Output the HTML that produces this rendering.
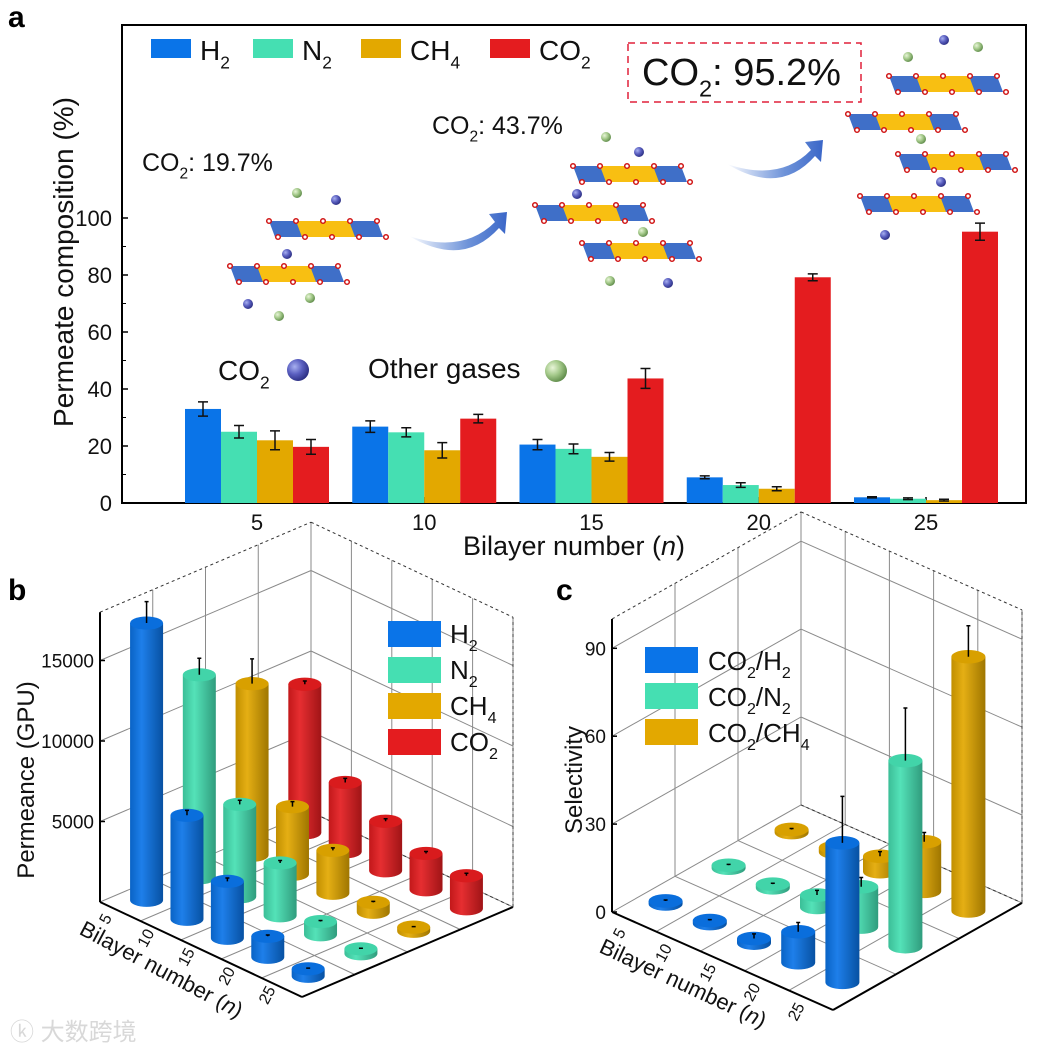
<!DOCTYPE html>
<html><head><meta charset="utf-8">
<style>
html,body{margin:0;padding:0;background:#fff;}
svg{display:block;font-family:"Liberation Sans",Arial,sans-serif;}
</style></head>
<body>
<svg id="fig" width="1061" height="1049" viewBox="0 0 1061 1049" xmlns="http://www.w3.org/2000/svg">
<defs>
<linearGradient id="arrowGrad" x1="0" y1="0" x2="1" y2="0">
<stop offset="0" stop-color="#3d6fd0" stop-opacity="0"/><stop offset="0.6" stop-color="#4a78cf" stop-opacity="0.8"/><stop offset="1" stop-color="#3a66c8"/></linearGradient>
<radialGradient id="blueBall" cx="0.35" cy="0.35" r="0.7"><stop offset="0" stop-color="#a8b0f0"/><stop offset="0.5" stop-color="#5a5fc0"/><stop offset="1" stop-color="#2a2d80"/></radialGradient>
<radialGradient id="greenBall" cx="0.35" cy="0.35" r="0.7"><stop offset="0" stop-color="#e8f5d8"/><stop offset="0.5" stop-color="#a4c98a"/><stop offset="1" stop-color="#5d8a48"/></radialGradient>
</defs>
<g id="panelA"></g>
<g id="panelB"></g>
<g id="panelC"></g>
<text x="10" y="1040" font-size="24" fill="#d8d8d8" font-family="'Liberation Sans','Noto Sans CJK SC',sans-serif">ⓚ 大数跨境</text>
</svg>
<script>
// ---------- Panel a data ----------
const catsA = ['5','10','15','20','25'];
const gasesA = ['H2','N2','CH4','CO2'];
const h2A = [33, 26.8, 20.5, 9, 2];
const n2A = [25, 24.8, 19, 6.3, 1.5];
const ch4A = [22, 18.5, 16.2, 5, 1];
const co2A = [19.7, 29.6, 43.7, 79.2, 95.2];
const h2Err = [2.5, 2, 1.8, 0.5, 0.2];
const n2Err = [2.2, 1.6, 1.7, 0.8, 0.3];
const ch4Err = [3.3, 2.7, 1.5, 0.7, 0.3];
const co2Err = [2.6, 1.5, 3.5, 1.2, 3.0];
const yTicksA = [0,20,40,60,80,100];
// ---------- Panel b data ----------
const catsB = ['5','10','15','20','25'];
const h2B = [16800, 6300, 3450, 1270, 450];
const n2B = [12300, 5600, 3200, 800, 300];
const ch4B = [10400, 4100, 2600, 600, 250];
const co2B = [9000, 4200, 3000, 2200, 2000];
const h2BErr = [1300, 300, 200, 80, 40];
const n2BErr = [1000, 250, 150, 60, 30];
const ch4BErr = [1500, 300, 150, 60, 30];
const co2BErr = [200, 250, 150, 120, 150];
const zTicksB = [5000,10000,15000];
// ---------- Panel c data ----------
const catsC = ['5','10','15','20','25'];
const selH2 = [0.6, 0.8, 1.5, 10, 45];
const selN2 = [0.8, 1.2, 4, 13, 60];
const selCH4 = [1, 1.5, 5, 16, 82];
const selH2Err = [0.3, 0.3, 1.5, 3, 15];
const selN2Err = [0.3, 0.3, 1.5, 3, 17];
const selCH4Err = [0.3, 0.4, 1.5, 3, 10];
const zTicksC = [0,30,60,90];

const NS='http://www.w3.org/2000/svg';
function mk(parent, tag, attrs, text){
  const e=document.createElementNS(NS,tag);
  for(const k in attrs) e.setAttribute(k,attrs[k]);
  if(text!==undefined) e.textContent=text;
  parent.appendChild(e); return e;
}
const colors={H2:'#0a74e8',N2:'#45dfb2',CH4:'#e3a800',CO2:'#e41c1f'};
function gasLabel(parent,x,y,size,base,sub,rest,anchor){
  const t=mk(parent,'text',{x:x,y:y,'font-size':size,fill:'#111','text-anchor':anchor||'start'});
  t.appendChild(document.createTextNode(base));
  if(sub){mk(t,'tspan',{'font-size':size*0.62,dy:size*0.3},sub);}
  if(rest){mk(t,'tspan',{dy:-size*0.3},rest);}
  return t;
}

// ================= PANEL A =================
const A=document.getElementById('panelA');
const axL=122, axR=1026, axT=25, axB=503;
const yA=v=>axB - v*2.85;
const xA=i=>257 + i*167.25;
mk(A,'text',{x:8,y:27,'font-size':30,'font-weight':'bold',fill:'#000'},'a');
const frameA=mk(A,'rect',{x:axL,y:axT,width:axR-axL,height:axB-axT,fill:'none',stroke:'#000','stroke-width':2});


yTicksA.forEach(v=>{
  const t=mk(A,'text',{x:112,y:yA(v)+8,'font-size':22,'text-anchor':'end',fill:'#111'},String(v));
  
  
  mk(A,'line',{x1:axL,x2:axL+6,y1:yA(v),y2:yA(v),stroke:'#000','stroke-width':1.5});
  if(v<100) mk(A,'line',{x1:axL,x2:axL+4,y1:yA(v+10),y2:yA(v+10),stroke:'#000','stroke-width':1});
});
const seriesA=[h2A,n2A,ch4A,co2A], errsA=[h2Err,n2Err,ch4Err,co2Err];
catsA.forEach((c,i)=>{
  const t=mk(A,'text',{x:xA(i),y:530,'font-size':22,'text-anchor':'middle',fill:'#111'},c);
  
  
  mk(A,'line',{x1:xA(i),x2:xA(i),y1:axB,y2:axB-6,stroke:'#000','stroke-width':1.5});
  gasesA.forEach((g,j)=>{
    const v=seriesA[j][i], e=errsA[j][i];
    const bx=xA(i)-72+j*36;
    const r=mk(A,'rect',{x:bx,y:yA(v),width:36,height:axB-yA(v),fill:colors[g]});
    
    
    const cx=bx+18;
    mk(A,'path',{d:`M${cx},${yA(v+e)}V${yA(v-e)}M${cx-5},${yA(v+e)}H${cx+5}M${cx-5},${yA(v-e)}H${cx+5}`,stroke:'#111','stroke-width':1.5,fill:'none'});
  });
});
const xt=mk(A,'text',{x:574,y:555,'font-size':27,'text-anchor':'middle',fill:'#111'});


xt.appendChild(document.createTextNode('Bilayer number ('));
mk(xt,'tspan',{'font-style':'italic'},'n'); xt.appendChild(document.createTextNode(')'));
const yt=mk(A,'text',{x:0,y:0,'font-size':28,'text-anchor':'middle',fill:'#111',transform:'translate(73,262) rotate(-90)'},'Permeate composition (%)');


// legend
const legA=mk(A,'g',{});


[['H2',151,'H','2'],['N2',253,'N','2'],['CH4',361,'CH','4'],['CO2',490,'CO','2']].forEach(([g,x,b,s])=>{
  const r=mk(legA,'rect',{x:x,y:39,width:40,height:19,fill:colors[g]});
  
  
  gasLabel(legA,x+49,60,28,b,s,'');
});
// annotations
gasLabel(A,142,171,25,'CO','2',': 19.7%');
gasLabel(A,432,134,25,'CO','2',': 43.7%');
mk(A,'rect',{x:628,y:43,width:233,height:59,fill:'none',stroke:'#e0203a','stroke-width':1.5,'stroke-dasharray':'7,5'});
gasLabel(A,642,85,38,'CO','2',': 95.2%');
gasLabel(A,218,380,28,'CO','2','');
mk(A,'text',{x:368,y:378,'font-size':28,fill:'#111'},'Other gases');
function ball(x,y,r,type){mk(A,'circle',{cx:x,cy:y,r:r,fill:type==='b'?'url(#blueBall)':'url(#greenBall)'});}
ball(298,370,11,'b'); ball(556,371,11,'g');
function layer(x,y){
  const g=mk(A,'g',{});
  
  
  const w=108,h=16,s=6;
  mk(g,'polygon',{points:`${x},${y} ${x+w},${y} ${x+w+s},${y+h} ${x+s},${y+h}`,fill:'#3f6fc8'});
  mk(g,'polygon',{points:`${x+27},${y} ${x+80},${y} ${x+86},${y+h} ${x+33},${y+h}`,fill:'#f8bf12'});
  for(let k=0;k<5;k++){mk(g,'circle',{cx:x+k*27,cy:y,r:2.3,fill:'#fff',stroke:'#d01515','stroke-width':1.5});
    mk(g,'circle',{cx:x+s+k*27+3,cy:y+h,r:2.3,fill:'#fff',stroke:'#d01515','stroke-width':1.5});}
}
layer(269,221); layer(230,266); ball(297,193,5,'g'); ball(336,200,5,'b'); ball(287,254,5,'b'); ball(248,304,5,'b'); ball(310,298,5,'g'); ball(279,316,5,'g');
layer(573,166); layer(535,205); layer(582,243); ball(606,137,5,'g'); ball(639,152,5,'b'); ball(577,194,5,'b'); ball(643,232,5,'g'); ball(610,281,5,'g'); ball(668,283,5,'b');
layer(889,76); layer(848,114); layer(898,154); layer(860,196); ball(908,57,5,'g'); ball(944,40,5,'b'); ball(978,47,5,'g'); ball(921,139,5,'g'); ball(941,182,5,'b'); ball(885,235,5,'b');
function arrow(x0,y0,x1,y1){
  const a=mk(A,'path',{d:`M${x0},${y0} Q${(x0+x1)/2+5},${y0+18} ${x1-12},${y1+10} L${x1-18},${y1+2} L${x1},${y1} L${x1-2},${y1+22} L${x1-8},${y1+16} Q${(x0+x1)/2+5},${y0+32} ${x0},${y0} Z`,fill:'url(#arrowGrad)'});
  
  
}
arrow(409,236,507,212); arrow(727,164,823,140);

// ================= 3D helpers =================
function shade(hex,f){const n=parseInt(hex.slice(1),16);let r=n>>16,g=(n>>8)&255,b=n&255;
  const c=v=>Math.max(0,Math.min(255,Math.round(f>1?v+(255-v)*(f-1):v*f)));return `rgb(${c(r)},${c(g)},${c(b)})`;}
let gradId=0;
function cylinder(P,cx,cy,h,w,col,name,err){
  const g=mk(P,'g',{});
  
  
  const id='cg'+(gradId++);
  const lg=mk(g,'linearGradient',{id:id,x1:0,x2:1,y1:0,y2:0});
  mk(lg,'stop',{offset:0,'stop-color':shade(col,0.85)});mk(lg,'stop',{offset:0.35,'stop-color':shade(col,1.08)});mk(lg,'stop',{offset:1,'stop-color':shade(col,0.7)});
  const ry=w*0.2, rx=w/2;
  mk(g,'path',{d:`M${cx-rx},${cy-h} V${cy} A${rx},${ry} 0 0 0 ${cx+rx},${cy} V${cy-h} Z`,fill:`url(#${id})`});
  mk(g,'ellipse',{cx:cx,cy:cy-h,rx:rx,ry:ry,fill:shade(col,0.95)});
  if(err>0){mk(g,'path',{d:`M${cx},${cy-h} V${cy-h-err} M${cx-2},${cy-h-err} H${cx+2}`,stroke:'#000','stroke-width':1.5});}
  else mk(g,'circle',{cx:cx,cy:cy-h,r:1.5,fill:'#000'});
}
function panel3D(P,cfg){
  const {L,u,v,nI,nJ,k,zmax,ticks}=cfg;
  const pt=(i,j,z)=>[L[0]+i*u[0]+j*v[0], L[1]+i*u[1]+j*v[1]-z*k];
  const line=(a,b,attrs)=>mk(P,'line',Object.assign({x1:a[0],y1:a[1],x2:b[0],y2:b[1],stroke:'#8a8a8a','stroke-width':1},attrs||{}));
  for(let j=0;j<=nJ;j++) line(pt(0,j,0),pt(0,j,zmax));
  for(let i=0;i<=nI;i++) line(pt(i,nJ,0),pt(i,nJ,zmax));
  ticks.forEach(t=>{line(pt(0,0,t),pt(0,nJ,t));line(pt(0,nJ,t),pt(nI,nJ,t));});
  line(pt(0,0,zmax),pt(0,nJ,zmax),{'stroke-dasharray':'3,3',stroke:'#333'});
  line(pt(0,nJ,zmax),pt(nI,nJ,zmax),{'stroke-dasharray':'3,3',stroke:'#333'});
  for(let i=0;i<=nI;i++) line(pt(i,0,0),pt(i,nJ,0));
  for(let j=0;j<=nJ;j++) line(pt(0,j,0),pt(nI,j,0));
  line(pt(0,0,0),pt(nI,0,0),{stroke:'#000','stroke-width':2});
  line(pt(nI,0,0),pt(nI,nJ,0),{stroke:'#000','stroke-width':2});
  line(pt(0,0,0),pt(0,0,zmax),{stroke:'#000','stroke-width':2});
  line(pt(0,nJ,0),pt(nI,nJ,0),{'stroke-dasharray':'3,3',stroke:'#333'});
  line(pt(nI,nJ,0),pt(nI,nJ,zmax),{'stroke-dasharray':'3,3',stroke:'#333'});
  return pt;
}

// ================= PANEL B =================
const B=document.getElementById('panelB');
mk(B,'text',{x:8,y:600,'font-size':30,'font-weight':'bold',fill:'#000'},'b');
const ptB=panel3D(B,{L:[100,902],u:[40.4,19],v:[52.75,-22.5],nI:5,nJ:4,k:0.0161,zmax:18000,ticks:[5000,10000,15000]});
zTicksB.forEach(t=>{const p=ptB(0,0,t);
  const tl=mk(B,'text',{x:p[0]-6,y:p[1]+7,'font-size':19,'text-anchor':'end',fill:'#111'},String(t));
  
  
  mk(B,'line',{x1:p[0],y1:p[1],x2:p[0]+5,y2:p[1],stroke:'#000','stroke-width':1.5});});
const ytb=mk(B,'text',{'font-size':24,'text-anchor':'middle',fill:'#111',transform:'translate(34,780) rotate(-90)'},'Permeance (GPU)');


catsB.forEach((c,i)=>{const p=ptB(i+0.5,0,0);
  const tl=mk(B,'text',{'font-size':16,'text-anchor':'middle',fill:'#111',transform:`translate(${p[0]-10},${p[1]+10}) rotate(-62)`},c);
  
  });
const xtb=mk(B,'text',{'font-size':22,'text-anchor':'middle',fill:'#111',transform:'translate(158,976) rotate(28)'});


xtb.appendChild(document.createTextNode('Bilayer number ('));
mk(xtb,'tspan',{'font-style':'italic'},'n'); xtb.appendChild(document.createTextNode(')'));
const serB=[h2B,n2B,ch4B,co2B], errB=[h2BErr,n2BErr,ch4BErr,co2BErr];
let itemsB=[];
gasesA.forEach((g,j)=>catsB.forEach((c,i)=>{const p=ptB(i+0.5,j+0.5,0);itemsB.push({p,g,i,j,c});}));
itemsB.sort((a,b)=>a.p[1]-b.p[1]);
itemsB.forEach(o=>cylinder(B,o.p[0],o.p[1],serB[o.j][o.i]*0.0165,33,colors[o.g],'cyl-'+o.g.toLowerCase()+'-n'+o.c,errB[o.j][o.i]*0.0165));
const legB=mk(B,'g',{});


[['H2','H','2'],['N2','N','2'],['CH4','CH','4'],['CO2','CO','2']].forEach(([g,b,s],k)=>{
  const r=mk(legB,'rect',{x:388,y:621+k*36,width:53,height:26,fill:colors[g]});
  
  
  gasLabel(legB,450,643+k*36,26,b,s,'');
});

// ================= PANEL C =================
const C=document.getElementById('panelC');
mk(C,'text',{x:556,y:600,'font-size':30,'font-weight':'bold',fill:'#000'},'c');
const ptC=panel3D(C,{L:[612,912],u:[44.2,19.6],v:[63,-35.7],nI:5,nJ:3,k:2.93,zmax:100,ticks:[30,60,90]});
zTicksC.forEach(t=>{const p=ptC(0,0,t);
  const tl=mk(C,'text',{x:p[0]-6,y:p[1]+7,'font-size':19,'text-anchor':'end',fill:'#111'},String(t));
  
  
  mk(C,'line',{x1:p[0],y1:p[1],x2:p[0]+5,y2:p[1],stroke:'#000','stroke-width':1.5});});
const ytc=mk(C,'text',{'font-size':24,'text-anchor':'middle',fill:'#111',transform:'translate(582,780) rotate(-90)'},'Selectivity');


catsC.forEach((c,i)=>{const p=ptC(i+0.5,0,0);
  const tl=mk(C,'text',{'font-size':16,'text-anchor':'middle',fill:'#111',transform:`translate(${p[0]-10},${p[1]+14}) rotate(-62)`},c);
  
  });
const xtc=mk(C,'text',{'font-size':22,'text-anchor':'middle',fill:'#111',transform:'translate(680,990) rotate(25)'});


xtc.appendChild(document.createTextNode('Bilayer number ('));
mk(xtc,'tspan',{'font-style':'italic'},'n'); xtc.appendChild(document.createTextNode(')'));
const serC=[selH2,selN2,selCH4], errC=[selH2Err,selN2Err,selCH4Err], gasC=['H2','N2','CH4'];
let itemsC=[];
gasC.forEach((g,j)=>catsC.forEach((c,i)=>{const p=ptC(i+0.5,j+0.5,0);itemsC.push({p,g,i,j,c});}));
itemsC.sort((a,b)=>a.p[1]-b.p[1]);
itemsC.forEach(o=>cylinder(C,o.p[0],o.p[1],Math.max(3,serC[o.j][o.i]*3.1),34,colors[o.g],'cyl-co2-'+o.g.toLowerCase()+'-n'+o.c,errC[o.j][o.i]*3.1));
const legC=mk(C,'g',{});


[['H2','H','2'],['N2','N','2'],['CH4','CH','4']].forEach(([g,b,s],k)=>{
  const r=mk(legC,'rect',{x:645,y:647+k*36,width:53,height:26,fill:colors[g]});
  
  
  const t=mk(legC,'text',{x:708,y:670+k*36,'font-size':26,fill:'#111'});
  t.appendChild(document.createTextNode('CO'));mk(t,'tspan',{'font-size':16,dy:8},'2');
  mk(t,'tspan',{dy:-8},'/'+b);mk(t,'tspan',{'font-size':16,dy:8},s);
});
</script>
</body></html>
